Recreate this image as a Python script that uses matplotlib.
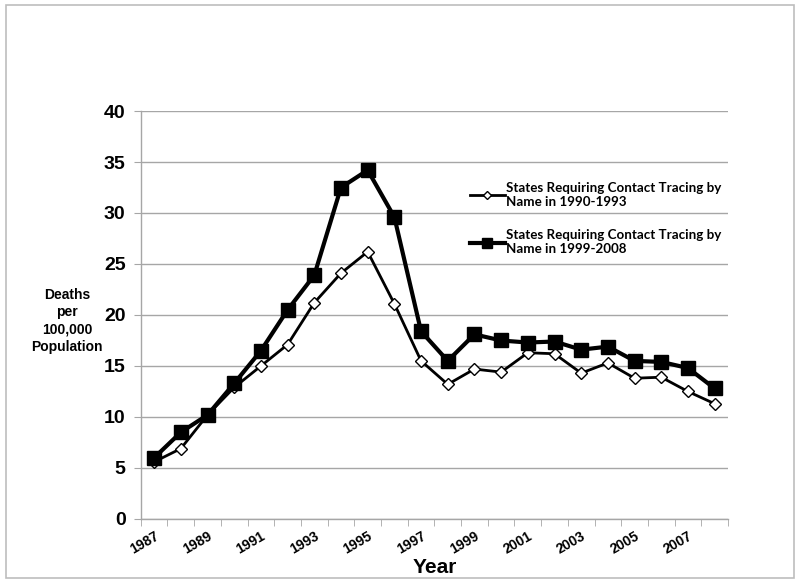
import matplotlib
matplotlib.use("Agg")
import matplotlib.pyplot as plt
from matplotlib.patches import Rectangle
from matplotlib.ticker import MultipleLocator, FixedLocator

years = list(range(1987, 2009))
tracing_1990_1993 = [5.6, 6.9, 10.2, 12.9, 15.0, 17.1, 21.2, 24.1, 26.2, 21.1, 15.5,
                     13.2, 14.7, 14.4, 16.3, 16.2, 14.3, 15.3, 13.8, 13.9, 12.5, 11.3]
tracing_1999_2008 = [6.0, 8.5, 10.2, 13.3, 16.5, 20.5, 23.9, 32.5, 34.2, 29.6, 18.4,
                     15.5, 18.1, 17.5, 17.3, 17.4, 16.6, 16.9, 15.5, 15.4, 14.8, 12.8]
label_a = "States Requiring Contact Tracing by\nName in 1990-1993"
label_b = "States Requiring Contact Tracing by\nName in 1999-2008"
xtick_labels = [str(y) for y in years[::2]]

fig = plt.figure(figsize=(8, 5.83), dpi=100)
fig.patches.append(Rectangle((0.007, 0.008), 0.986, 0.983, transform=fig.transFigure,
                             fill=False, edgecolor="#bdbdbd", linewidth=1.2))
ax = fig.add_axes([0.176, 0.1098, 0.734, 0.6998])

x = list(range(len(years)))
ax.plot(x, tracing_1990_1993, color="black", lw=2.0, marker="D", ms=6,
        mfc="white", mec="black", mew=1.0, label=label_a, zorder=3)
ax.plot(x, tracing_1999_2008, color="black", lw=3.0, marker="s", ms=10,
        mfc="black", mec="black", label=label_b, zorder=4)

ax.set_xlim(-0.5, len(years) - 0.5)
ax.set_ylim(0, 40)
ax.yaxis.set_major_locator(MultipleLocator(5))
ax.grid(axis="y", color="#a6a6a6", lw=1.0)
ax.set_axisbelow(True)
for s in ["top", "right"]:
    ax.spines[s].set_visible(False)
for s in ["left", "bottom"]:
    ax.spines[s].set_color("#a6a6a6")
    ax.spines[s].set_linewidth(1.0)

ax.xaxis.set_major_locator(FixedLocator(x[::2]))
ax.set_xticklabels(xtick_labels, rotation=30, fontsize=10, fontweight="bold",
                   family="Liberation Sans", ha="right", rotation_mode="anchor")
ax.tick_params(axis="x", which="major", length=0, pad=7)
ax.xaxis.set_minor_locator(FixedLocator([i - 0.5 for i in range(len(years) + 1)]))
ax.tick_params(axis="x", which="minor", length=5, color="#a6a6a6", direction="out")
ax.tick_params(axis="y", length=5, color="#a6a6a6", pad=6)
for lab in ax.get_yticklabels():
    lab.set_fontsize(14)
    lab.set_fontweight("bold")
    lab.set_family("Liberation Sans")

ax.set_xlabel("Year", fontsize=15, fontweight="bold", family="Liberation Sans", labelpad=1)
fig.text(0.084, 0.45, "Deaths\nper\n100,000\nPopulation", ha="center", va="center",
         fontsize=10, fontweight="bold", family="Liberation Sans", linespacing=1.3)

leg = ax.legend(loc="upper left", bbox_to_anchor=(0.54, 0.855), frameon=False,
                prop={"family": "Lato", "weight": "bold", "size": 9.6},
                handlelength=2.6, handletextpad=0.1, labelspacing=1.6, markerscale=0.7)

fig.savefig("out.png", dpi=100)
